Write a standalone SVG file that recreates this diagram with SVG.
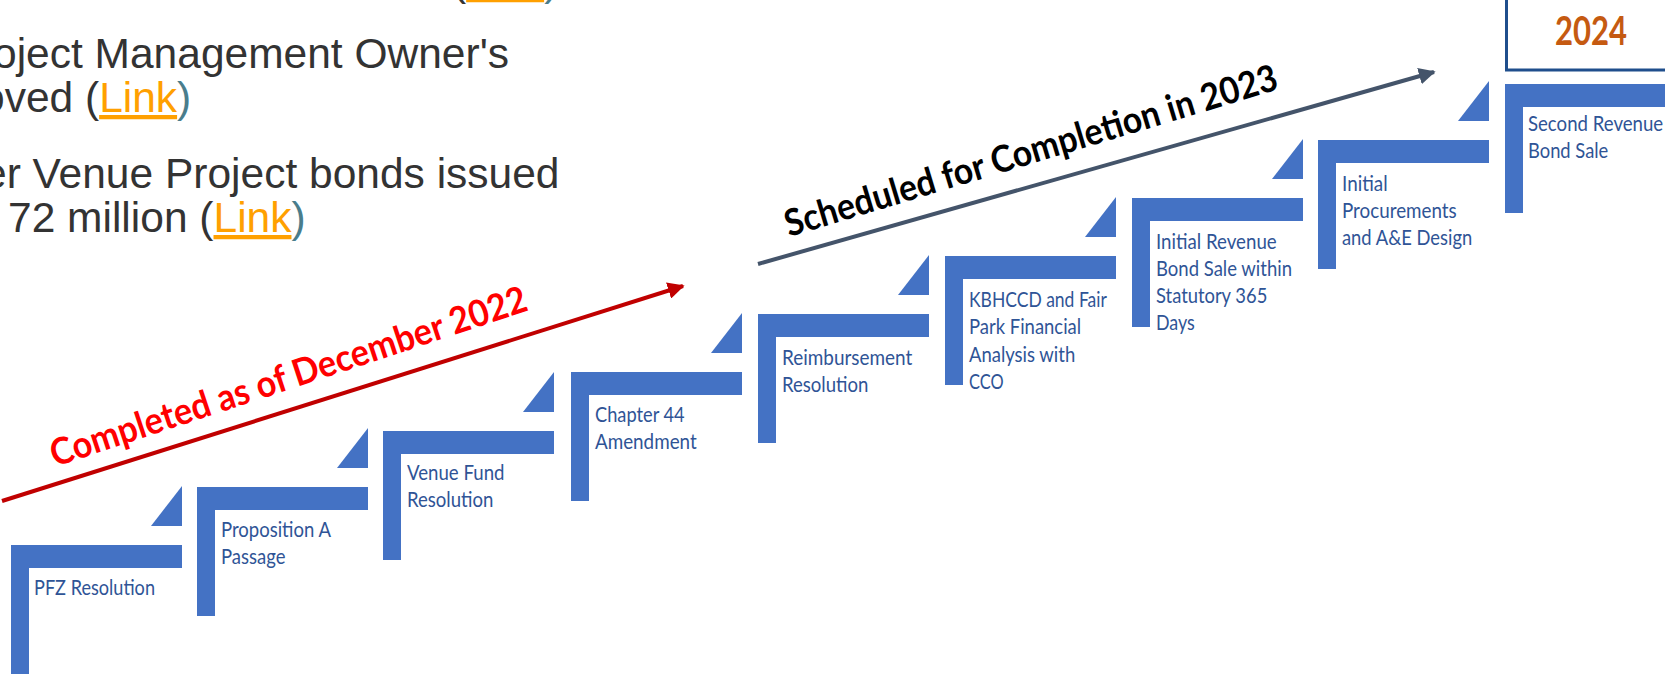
<svg xmlns="http://www.w3.org/2000/svg" width="1665" height="674" viewBox="0 0 1665 674">
<style>
.bar{fill:#4472C4}
.lbl{font-family:Lato,"Liberation Sans",sans-serif;font-size:21px;fill:#2F5496}
.body{font-family:"Liberation Sans",Arial,sans-serif;font-size:42.5px;fill:#333333}
.link{fill:#FFA000;text-decoration:underline}
.cp{fill:#4A7D8C}
.banner{font-family:Lato,"Liberation Sans",sans-serif;font-weight:700;font-size:37px}
</style>
<defs>
<marker id="headRed" viewBox="0 0 10 10" refX="9" refY="5" markerWidth="4.2" markerHeight="4.2" orient="auto" markerUnits="strokeWidth">
<path d="M0,0 L10,5 L0,10 z" fill="#C00000"/>
</marker>
<marker id="headGray" viewBox="0 0 10 10" refX="9" refY="5" markerWidth="4.2" markerHeight="4.2" orient="auto" markerUnits="strokeWidth">
<path d="M0,0 L10,5 L0,10 z" fill="#44546A"/>
</marker>
</defs>
<rect width="1665" height="674" fill="#FFFFFF"/>

<g id="intro-text">
<text class="body" x="452" y="-5">(<tspan class="link">Link</tspan><tspan class="cp">)</tspan></text>
<text class="body" x="-7" y="68">oject Management Owner's</text>
<text class="body" x="-19" y="112">oved (<tspan class="link">Link</tspan><tspan class="cp">)</tspan></text>
<text class="body" x="-17" y="188">er Venue Project bonds issued</text>
<text class="body" x="8" y="232">72 million (<tspan class="link">Link</tspan><tspan class="cp">)</tspan></text>
</g>

<g id="year-2024">
<rect x="1506.5" y="-10" width="200" height="80" fill="#FFFFFF" stroke="#1F4E8C" stroke-width="3"/>
<text x="1555" y="45" textLength="72" lengthAdjust="spacingAndGlyphs" style="font-family:Lato,'Liberation Sans',sans-serif;font-weight:700;font-size:40px;fill:#C55A11">2024</text>
</g>

<g id="step-1">
<path class="bar" d="M11 545h171v23h-153v106h-18z"/>
<path class="bar" d="M151 526L182 486V526z"/>
<text class="lbl" x="34" y="595" textLength="121" lengthAdjust="spacingAndGlyphs">PFZ Resolution</text>
</g>
<g id="step-2">
<path class="bar" d="M197 487h171v23h-153v106h-18z"/>
<path class="bar" d="M337 468L368 428V468z"/>
<text class="lbl" x="221" y="537" textLength="110" lengthAdjust="spacingAndGlyphs">Proposition A</text>
<text class="lbl" x="221" y="564" textLength="64.5" lengthAdjust="spacingAndGlyphs">Passage</text>
</g>
<g id="step-3">
<path class="bar" d="M383 431h171v23h-153v106h-18z"/>
<path class="bar" d="M523 412L554 372V412z"/>
<text class="lbl" x="407" y="480" textLength="97.5" lengthAdjust="spacingAndGlyphs">Venue Fund</text>
<text class="lbl" x="407" y="507" textLength="86.4" lengthAdjust="spacingAndGlyphs">Resolution</text>
</g>
<g id="step-4">
<path class="bar" d="M571 372h171v23h-153v106h-18z"/>
<path class="bar" d="M711 353L742 313V353z"/>
<text class="lbl" x="595" y="422" textLength="89.7" lengthAdjust="spacingAndGlyphs">Chapter 44</text>
<text class="lbl" x="595" y="449" textLength="101.7" lengthAdjust="spacingAndGlyphs">Amendment</text>
</g>
<g id="step-5">
<path class="bar" d="M758 314h171v23h-153v106h-18z"/>
<path class="bar" d="M898 295L929 255V295z"/>
<text class="lbl" x="782" y="365" textLength="130.3" lengthAdjust="spacingAndGlyphs">Reimbursement</text>
<text class="lbl" x="782" y="392" textLength="86.4" lengthAdjust="spacingAndGlyphs">Resolution</text>
</g>
<g id="step-6">
<path class="bar" d="M945 256h171v23h-153v106h-18z"/>
<path class="bar" d="M1085 237L1116 197V237z"/>
<text class="lbl" x="969" y="307" textLength="137.8" lengthAdjust="spacingAndGlyphs">KBHCCD and Fair</text>
<text class="lbl" x="969" y="334" textLength="112.1" lengthAdjust="spacingAndGlyphs">Park Financial</text>
<text class="lbl" x="969" y="362" textLength="106.2" lengthAdjust="spacingAndGlyphs">Analysis with</text>
<text class="lbl" x="969" y="389" textLength="34.6" lengthAdjust="spacingAndGlyphs">CCO</text>
</g>
<g id="step-7">
<path class="bar" d="M1132 198h171v23h-153v106h-18z"/>
<path class="bar" d="M1272 179L1303 139V179z"/>
<text class="lbl" x="1156" y="249" textLength="120.7" lengthAdjust="spacingAndGlyphs">Initial Revenue</text>
<text class="lbl" x="1156" y="276" textLength="136" lengthAdjust="spacingAndGlyphs">Bond Sale within</text>
<text class="lbl" x="1156" y="303" textLength="111.3" lengthAdjust="spacingAndGlyphs">Statutory 365</text>
<text class="lbl" x="1156" y="330" textLength="38.8" lengthAdjust="spacingAndGlyphs">Days</text>
</g>
<g id="step-8">
<path class="bar" d="M1318 140h171v23h-153v106h-18z"/>
<path class="bar" d="M1458 121L1489 81V121z"/>
<text class="lbl" x="1342" y="191" textLength="45.6" lengthAdjust="spacingAndGlyphs">Initial</text>
<text class="lbl" x="1342" y="218" textLength="114.7" lengthAdjust="spacingAndGlyphs">Procurements</text>
<text class="lbl" x="1342" y="245" textLength="130.2" lengthAdjust="spacingAndGlyphs">and A&amp;E Design</text>
</g>
<g id="step-9">
<path class="bar" d="M1505 84h171v23h-153v106h-18z"/>
<text class="lbl" x="1528" y="131" textLength="135.2" lengthAdjust="spacingAndGlyphs">Second Revenue</text>
<text class="lbl" x="1528" y="158" textLength="80.3" lengthAdjust="spacingAndGlyphs">Bond Sale</text>
</g>

<g id="connectors">
<line x1="2" y1="501" x2="683" y2="286" stroke="#C00000" stroke-width="4" marker-end="url(#headRed)"/>
<line x1="758" y1="264" x2="1434" y2="72" stroke="#44546A" stroke-width="4" marker-end="url(#headGray)"/>
</g>

<g id="banners">
<text class="banner" fill="#FF0000" transform="translate(55 467) rotate(-18.3)" textLength="500" lengthAdjust="spacingAndGlyphs">Completed as of December 2022</text>
<text class="banner" fill="#000000" transform="translate(789 237) rotate(-16.8)" textLength="513" lengthAdjust="spacingAndGlyphs">Scheduled for Completion in 2023</text>
</g>
</svg>
